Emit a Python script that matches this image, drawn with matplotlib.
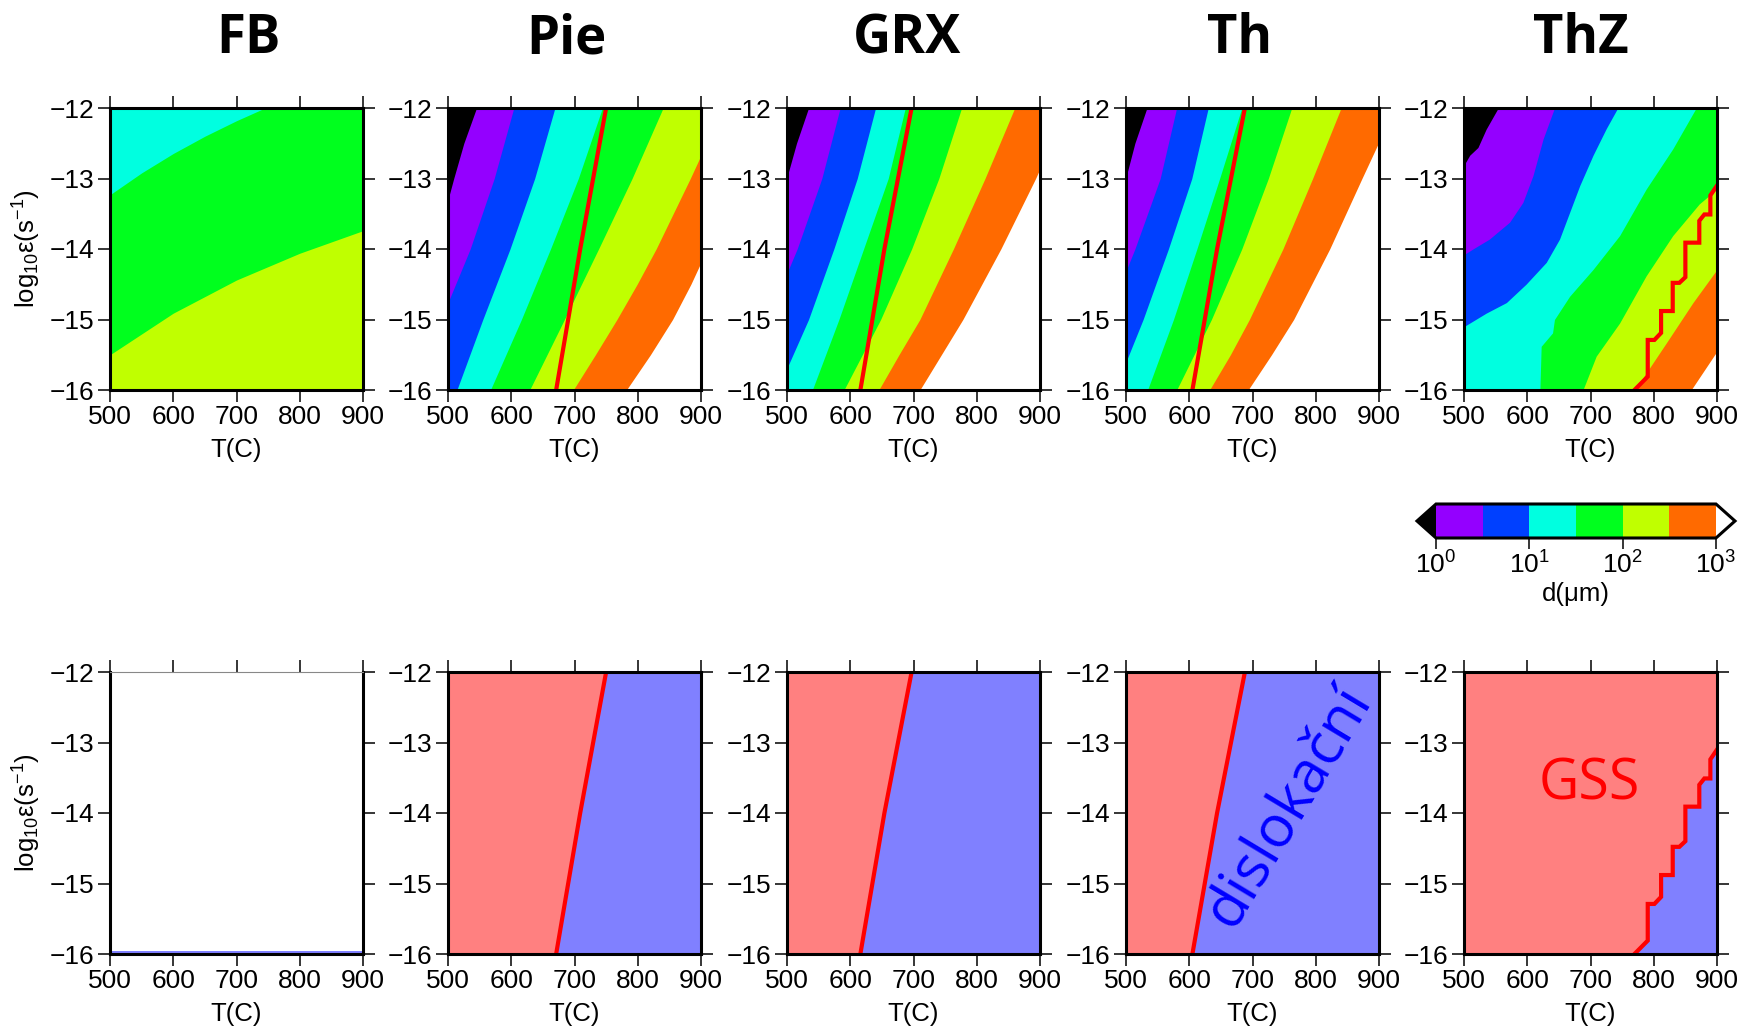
import matplotlib
matplotlib.use("Agg")
import matplotlib.pyplot as plt
from matplotlib.colors import ListedColormap, BoundaryNorm
from matplotlib.cm import ScalarMappable

plt.rcParams['font.family'] = ['Liberation Sans', 'DejaVu Sans']
plt.rcParams['mathtext.fontset'] = 'custom'
plt.rcParams['mathtext.rm'] = 'Liberation Sans'
plt.rcParams['mathtext.it'] = 'Liberation Sans:italic'
plt.rcParams['mathtext.bf'] = 'Liberation Sans:bold'

# ---------------------------------------------------------------- axes / labels
TITLES = ["FB", "Pie", "GRX", "Th", "ThZ"]
T_RANGE = [500, 900]
RATE_RANGE = [-16, -12]
T_TICKS = [500, 600, 700, 800, 900]
RATE_TICKS = [-12, -13, -14, -15, -16]

# ---------------------------------------------------------------- grain size colour scale
D_LEVELS = [0.0, 0.5, 1.0, 1.5, 2.0, 2.5, 3.0]          # log10 d (µm)
BAND_COLORS = ["#9400ff", "#0040ff", "#00ffe0", "#00ff1e", "#c0ff00", "#ff6a00"]
UNDER_COLOR = "black"
OVER_COLOR = "white"
CBAR_TICKS = [1, 10, 100, 1000]
CBAR_TICKLABELS = [r"$10^{0}$", r"$10^{1}$", r"$10^{2}$", r"$10^{3}$"]

# ---------------------------------------------------------------- iso-grain-size lines
# each entry: log10 d level -> (T [C], log10 strain rate); the region at higher T
# than the line has the larger grain size
FB_D = {
    1.5: ([745, 700, 650, 600, 550, 500, 500],
          [-12.0, -12.18, -12.40, -12.645, -12.92, -13.23, -16.0]),
    2.0: ([900, 900, 800, 700, 600, 500, 500],
          [-12.0, -13.74, -14.06, -14.44, -14.91, -15.5, -16.0]),
}
PIE_D = {
    0.0: ([545, 525, 509, 500, 500], [-12.0, -12.5, -13.0, -13.3, -16.0]),
    0.5: ([604, 573, 535, 500, 500], [-12.0, -13.0, -14.0, -14.76, -16.0]),
    1.0: ([669, 637, 598, 555, 514], [-12.0, -13.0, -14.0, -15.0, -16.0]),
    1.5: ([744, 706, 662, 616, 567], [-12.0, -13.0, -14.0, -15.0, -16.0]),
    2.0: ([840, 791, 738, 684, 629], [-12.0, -13.0, -14.0, -15.0, -16.0]),
    2.5: ([900, 900, 883, 856, 829, 799, 767, 733, 698],
          [-12.0, -12.67, -13.0, -13.5, -14.0, -14.5, -15.0, -15.5, -16.0]),
    3.0: ([900, 900, 884, 855, 820, 782], [-12.0, -14.19, -14.5, -15.0, -15.5, -16.0]),
}
GRX_D = {
    0.0: ([534, 515, 500, 500], [-12.0, -12.5, -12.98, -16.0]),
    0.5: ([584, 555, 516, 500, 500], [-12.0, -13.0, -14.0, -14.34, -16.0]),
    1.0: ([640, 611, 574, 534, 500, 500], [-12.0, -13.0, -14.0, -15.0, -15.69, -16.0]),
    1.5: ([687, 660, 621, 582, 540], [-12.0, -13.0, -14.0, -15.0, -16.0]),
    2.0: ([776, 740, 697, 648, 590], [-12.0, -13.0, -14.0, -15.0, -16.0]),
    2.5: ([860, 813, 763, 710, 677, 645], [-12.0, -13.0, -14.0, -15.0, -15.5, -16.0]),
    3.0: ([900, 900, 893, 838, 778, 710], [-12.0, -12.86, -13.0, -14.0, -15.0, -16.0]),
}
TH_D = {
    0.0: ([533, 514, 500, 500], [-12.0, -12.5, -12.98, -16.0]),
    0.5: ([580, 554, 514, 500, 500], [-12.0, -13.0, -14.0, -14.31, -16.0]),
    1.0: ([630, 604, 567, 527, 500, 500], [-12.0, -13.0, -14.0, -15.0, -15.6, -16.0]),
    1.5: ([683, 648, 612, 575, 534], [-12.0, -13.0, -14.0, -15.0, -16.0]),
    2.0: ([762, 725, 683, 635, 580], [-12.0, -13.0, -14.0, -15.0, -16.0]),
    2.5: ([840, 795, 748, 695, 665, 632], [-12.0, -13.0, -14.0, -15.0, -15.5, -16.0]),
    3.0: ([900, 900, 873, 822, 765, 730, 693],
          [-12.0, -12.48, -13.0, -14.0, -15.0, -15.5, -16.0]),
}
THZ_D = {
    0.0: ([554, 535, 522, 509, 500, 500], [-12.0, -12.3, -12.56, -12.67, -12.81, -16.0]),
    0.5: ([643, 625, 609, 593, 572, 540, 514, 500, 500],
          [-12.0, -12.44, -12.96, -13.34, -13.62, -13.86, -14.0, -14.08, -16.0]),
    1.0: ([743, 725, 704, 683, 667, 651, 630, 598, 567, 535, 500, 500],
          [-12.0, -12.29, -12.67, -13.1, -13.48, -13.86, -14.19, -14.5, -14.76, -14.91, -15.1, -16.0]),
    1.5: ([867, 830, 788, 746, 704, 667, 643, 640, 622, 620],
          [-12.0, -12.58, -13.15, -13.81, -14.29, -14.67, -15.0, -15.19, -15.38, -16.0]),
    2.0: ([900, 900, 872, 830, 788, 746, 709, 688],
          [-12.0, -13.15, -13.36, -13.81, -14.38, -15.05, -15.52, -16.0]),
    2.5: ([900, 900, 862, 820, 770], [-12.0, -14.29, -14.76, -15.33, -16.0]),
    3.0: ([900, 900, 859], [-12.0, -15.45, -16.0]),
}

# ---------------------------------------------------------------- GSS / dislocation creep boundary
PIE_GSS_T = [750, 709, 671]
PIE_GSS_E = [-12.0, -14.0, -16.0]
GRX_GSS_T = [697, 654, 616]
GRX_GSS_E = [-12.0, -14.0, -16.0]
TH_GSS_T = [688, 644, 605]
TH_GSS_E = [-12.0, -14.0, -16.0]
THZ_GSS_T = [900, 889.5, 889.5, 880, 872, 872, 850, 850, 840.5, 830, 830,
             811.6, 811.6, 801, 790.5, 790.5, 769.5]
THZ_GSS_E = [-13.10, -13.24, -13.51, -13.51, -13.60, -13.91, -13.91, -14.40, -14.48,
             -14.48, -14.88, -14.88, -15.19, -15.29, -15.29, -15.81, -16.0]
FB_DISL_T = [500, 900]
FB_DISL_E = [-15.96, -15.96]

GRAIN_FIELDS = [FB_D, PIE_D, GRX_D, TH_D, THZ_D]
GSS_LINES = [None, (PIE_GSS_T, PIE_GSS_E), (GRX_GSS_T, GRX_GSS_E),
             (TH_GSS_T, TH_GSS_E), (THZ_GSS_T, THZ_GSS_E)]

GSS_COLOR = "#ff8080"
DISL_COLOR = "#8080ff"
LINE_COLOR = "#ff0000"

# ---------------------------------------------------------------- colour map
cmap = ListedColormap(BAND_COLORS)
cmap.set_under(UNDER_COLOR)
cmap.set_over(OVER_COLOR)
norm = BoundaryNorm([10 ** v for v in D_LEVELS], cmap.N)


def band_color(log_d):
    return cmap(norm(10 ** log_d))


# ---------------------------------------------------------------- figure
W, H = 1752, 1030
fig = plt.figure(figsize=(W / 100, H / 100), dpi=100)
fig.patch.set_facecolor("white")

col_left = [110, 448, 787, 1126, 1464]
ax_w, ax_h = 253, 282
row_top = [108, 672]
title_x = [248, 566, 907, 1240, 1581]

FRAME_LW = 2.2
TICK_FS = 19
LABEL_FS = 18.5


def style_axes(ax, ylabel):
    ax.set_xlim(T_RANGE)
    ax.set_ylim(RATE_RANGE)
    ax.set_xticks(T_TICKS)
    ax.set_yticks(RATE_TICKS)
    ax.tick_params(direction="out", length=8.5, width=1.1, top=True, right=True,
                   labelsize=TICK_FS, pad=2.5, colors="black")
    for sp in ax.spines.values():
        sp.set_linewidth(FRAME_LW)
        sp.set_zorder(5)
    ax.set_xlabel("T(C)", fontsize=LABEL_FS, labelpad=6)
    if ylabel:
        ax.set_ylabel(r"log$_{10}$ε(s$^{-1}$)", fontsize=LABEL_FS, labelpad=5)


for i in range(5):
    # top row: grain size fields
    ax = fig.add_axes([col_left[i] / W, 1 - (row_top[0] + ax_h) / H, ax_w / W, ax_h / H])
    field = GRAIN_FIELDS[i]
    levels = sorted(field)
    ax.set_facecolor(band_color(levels[0] - 0.25))
    for lv in levels:
        T, E = field[lv]
        ax.fill_betweenx(E, T, T_RANGE[1], color=band_color(lv + 0.25), lw=0, zorder=1)
    if GSS_LINES[i] is not None:
        T, E = GSS_LINES[i]
        ax.plot(T, E, color=LINE_COLOR, lw=3, zorder=3, solid_joinstyle="miter")
    style_axes(ax, i == 0)

    # bottom row: deformation mechanism
    ax = fig.add_axes([col_left[i] / W, 1 - (row_top[1] + ax_h) / H, ax_w / W, ax_h / H])
    if GSS_LINES[i] is None:
        ax.set_facecolor("white")
        ax.fill_between(FB_DISL_T, RATE_RANGE[0], FB_DISL_E, color=DISL_COLOR, lw=0)
        style_axes(ax, i == 0)
        ax.spines["top"].set_linewidth(0.8)
        ax.spines["top"].set_color("#888888")
    else:
        T, E = GSS_LINES[i]
        ax.set_facecolor(GSS_COLOR)
        ax.fill_betweenx(E, T, T_RANGE[1], color=DISL_COLOR, lw=0, zorder=1)
        ax.plot(T, E, color=LINE_COLOR, lw=3, zorder=3, solid_joinstyle="miter")
        style_axes(ax, i == 0)
    if TITLES[i] == "Th":
        ax.text(757, -13.9, "dislokační", color="#0000ff", fontsize=42,
                family=["Open Sans", "DejaVu Sans"], rotation=59,
                ha="center", va="center", rotation_mode="anchor", zorder=4)
    if TITLES[i] == "ThZ":
        ax.text(698, -13.6, "GSS", color="#ff0000", fontsize=40,
                family=["Open Sans", "DejaVu Sans"], ha="center", va="center", zorder=4)

    fig.text(title_x[i] / W, 1 - 39 / H, TITLES[i], fontsize=38, fontweight="bold",
             family=["Open Sans", "DejaVu Sans"], ha="center", va="center")

# ---------------------------------------------------------------- colour bar
# the axes box includes the two end triangles
cax = fig.add_axes([1417 / W, 1 - 538 / H, 318 / W, 34 / H])
sm = ScalarMappable(norm=norm, cmap=cmap)
cb = fig.colorbar(sm, cax=cax, orientation="horizontal", extend="both",
                  extendfrac=0.068, ticks=CBAR_TICKS, drawedges=False)
cb.ax.set_xticklabels(CBAR_TICKLABELS)
cb.outline.set_linewidth(FRAME_LW)
cb.ax.tick_params(direction="out", length=8, width=1.1, labelsize=TICK_FS, pad=2)
cb.ax.minorticks_off()
cb.set_label("d(μm)", fontsize=LABEL_FS, labelpad=2)

fig.savefig("out.png", dpi=100, facecolor="white")
